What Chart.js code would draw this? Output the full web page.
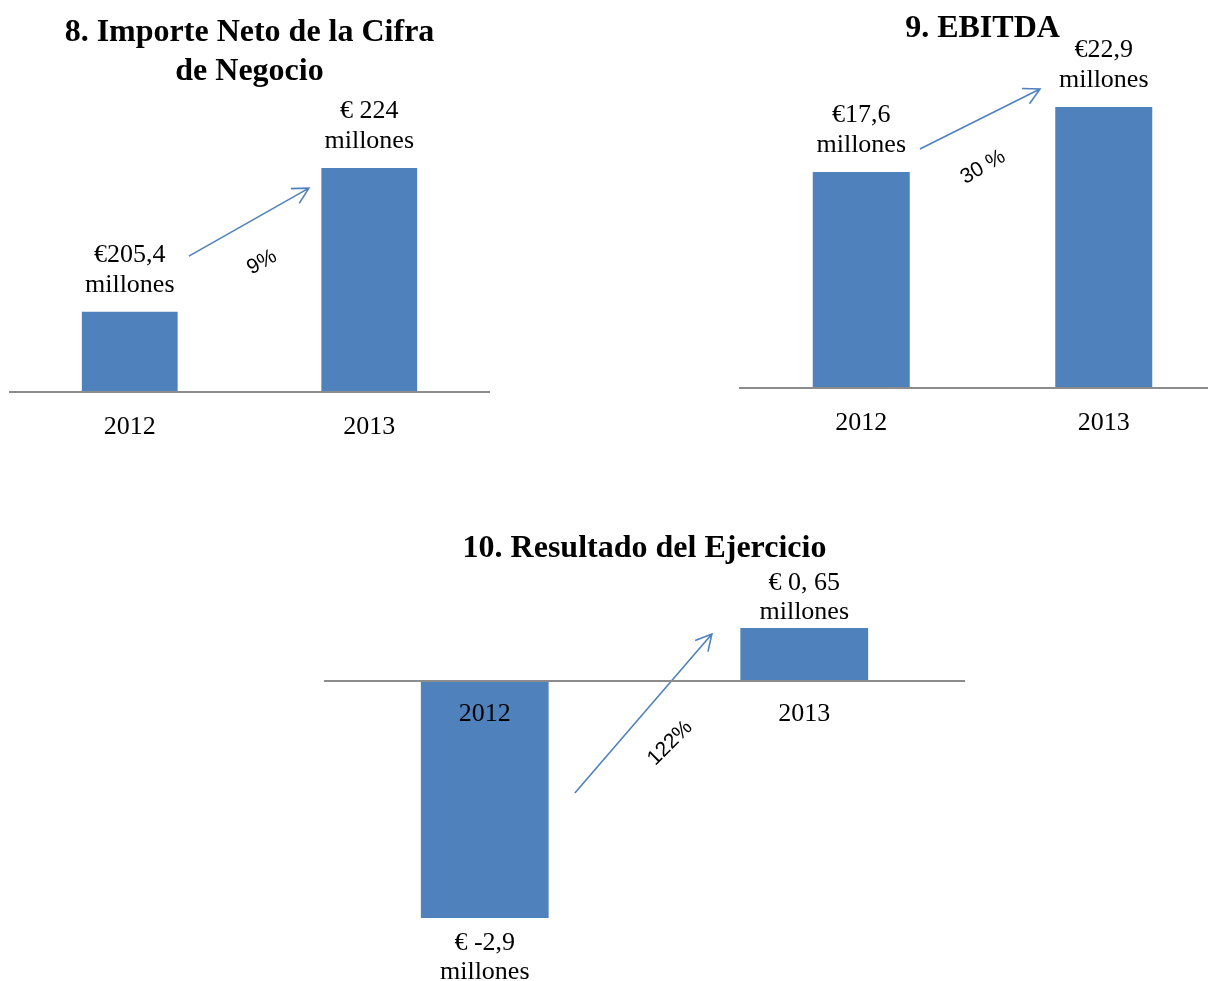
<!DOCTYPE html>
<html>
<head>
<meta charset="utf-8">
<title>Importe neto, EBITDA y resultado 2012-2013</title>
<script src="https://cdn.jsdelivr.net/npm/chart.js@4.4.0/dist/chart.umd.min.js"></script>
<style>
  html, body { margin: 0; padding: 0; background: #fff; overflow: hidden; }
  body { width: 1208px; height: 981px; position: relative; }
  .box { position: absolute; }
</style>
</head>
<body>
<div class="box" style="left:0;top:0;width:500px;height:462px"><canvas id="chart8"></canvas></div>
<div class="box" style="left:730px;top:0;width:500px;height:458px"><canvas id="chart9"></canvas></div>
<div class="box" style="left:315px;top:520px;width:660px;height:461px"><canvas id="chart10"></canvas></div>
<script>
// data, millones de euros
const years = ['2012', '2013'];

const ventas = [205.4, 224];
const ventasLabels = [['€205,4', 'millones'], ['€ 224', 'millones']];

const ebitda = [17.6, 22.9];
const ebitdaLabels = [['€17,6', 'millones'], ['€22,9', 'millones']];

const resultado = [-2.9, 0.65];
const resultadoLabels = [['€ -2,9', 'millones'], ['€ 0, 65', 'millones']];

// growth between the two years
const variaciones = ['9%', '30 %', '122%'];

const BLUE = '#4F81BD';
const SERIF = '"Liberation Serif", "DejaVu Serif", serif';

// writes the value text above (or under) each bar
const barLabels = {
  id: 'barLabels',
  afterDatasetsDraw(chart, args, opts) {
    const ctx = chart.ctx;
    const values = chart.data.datasets[0].data;
    ctx.save();
    ctx.font = '26px ' + SERIF;
    ctx.fillStyle = '#000';
    ctx.textAlign = 'center';
    ctx.textBaseline = 'alphabetic';
    chart.getDatasetMeta(0).data.forEach((bar, i) => {
      const lines = opts.texts[i];
      lines.forEach((t, j) => {
        if (values[i] >= 0) {
          ctx.fillText(t, bar.x, bar.y - opts.gap - (lines.length - 1 - j) * opts.lineGap);
        } else {
          ctx.fillText(t, bar.x, bar.y + opts.gapBelow + j * opts.lineGap);
        }
      });
    });
    ctx.restore();
  }
};

// blue arrow from 2012 to 2013 with the % text
const growthArrow = {
  id: 'growthArrow',
  afterDatasetsDraw(chart, args, opts) {
    const ctx = chart.ctx;
    const xs = chart.scales.x, ys = chart.scales.y;
    const x0 = xs.getPixelForValue(opts.from[0]), y0 = ys.getPixelForValue(opts.from[1]);
    const x1 = xs.getPixelForValue(opts.to[0]), y1 = ys.getPixelForValue(opts.to[1]);
    const ang = Math.atan2(y1 - y0, x1 - x0);
    const head = 18, spread = 28 * Math.PI / 180;
    ctx.save();
    ctx.strokeStyle = BLUE;
    ctx.lineWidth = 1.6;
    ctx.beginPath();
    ctx.moveTo(x0, y0);
    ctx.lineTo(x1, y1);
    ctx.moveTo(x1 - head * Math.cos(ang - spread), y1 - head * Math.sin(ang - spread));
    ctx.lineTo(x1, y1);
    ctx.lineTo(x1 - head * Math.cos(ang + spread), y1 - head * Math.sin(ang + spread));
    ctx.stroke();

    const tx = xs.getPixelForValue(opts.textAt[0]), ty = ys.getPixelForValue(opts.textAt[1]);
    ctx.translate(tx, ty);
    ctx.rotate(opts.angle * Math.PI / 180);
    ctx.font = '21px "Liberation Sans", Arial, sans-serif';
    ctx.fillStyle = '#000';
    ctx.textAlign = 'center';
    ctx.textBaseline = 'middle';
    ctx.fillText(opts.text, 0, 0);
    ctx.restore();
  }
};

function makeChart(id, values, cfg) {
  return new Chart(document.getElementById(id), {
    type: 'bar',
    data: {
      labels: years,
      datasets: [{
        data: values,
        backgroundColor: BLUE,
        barPercentage: 0.4,
        categoryPercentage: 1
      }]
    },
    options: {
      responsive: true,
      maintainAspectRatio: false,
      animation: false,
      layout: { padding: cfg.padding },
      plugins: {
        legend: { display: false },
        tooltip: { enabled: false },
        title: {
          display: true,
          text: cfg.title,
          color: '#000',
          font: { family: SERIF, size: 32, weight: 'bold', lineHeight: 1.22 },
          padding: cfg.titlePadding
        },
        barLabels: cfg.labels,
        growthArrow: cfg.arrow
      },
      scales: {
        x: {
          position: cfg.xPosition,
          grid: { display: false, drawTicks: false },
          // z 1 so the line and the years sit on top of the bars
          border: { display: true, color: '#8c8c8c', width: 2, z: 1 },
          ticks: { color: '#000', padding: cfg.tickPadding, z: 1, font: { family: SERIF, size: 26 } },
          afterFit: (scale) => { scale.height = 60; }
        },
        y: { display: false, min: cfg.min, max: cfg.max }
      }
    },
    plugins: [barLabels, growthArrow]
  });
}

makeChart('chart8', ventas, {
  title: ['8. Importe Neto de la Cifra', 'de Negocio'],
  titlePadding: { top: 13, bottom: 9 },
  padding: { left: 10, right: 11, top: 0, bottom: 10 },
  xPosition: 'bottom',
  tickPadding: 20,
  min: 195, max: 232.8,
  labels: { texts: ventasLabels, gap: 20, lineGap: 30 },
  arrow: { from: [0.247, 212.6], to: [0.748, 221.4], textAt: [0.552, 211.8], angle: -29, text: variaciones[0] }
});

makeChart('chart9', ebitda, {
  title: '9. EBITDA',
  titlePadding: { top: 9, bottom: 52 },
  padding: { left: 10, right: 5, top: 0, bottom: 10 },
  xPosition: 'bottom',
  tickPadding: 20,
  min: 0, max: 23.47,
  labels: { texts: ebitdaLabels, gap: 20, lineGap: 30 },
  arrow: { from: [0.242, 19.48], to: [0.737, 24.37], textAt: [0.502, 18.0], angle: -30, text: variaciones[1] }
});

makeChart('chart10', resultado, {
  title: '10. Resultado del Ejercicio',
  titlePadding: { top: 9, bottom: 12 },
  padding: { left: 10, right: 11, top: 0, bottom: 41 },
  xPosition: { y: 0 },
  tickPadding: 18,
  min: -3.17, max: 1.236,
  labels: { texts: resultadoLabels, gap: 9, gapBelow: 32, lineGap: 29 },
  arrow: { from: [0.282, -1.37], to: [0.711, 0.575], textAt: [0.580, -0.76], angle: -45, text: variaciones[2] }
});
</script>
</body>
</html>
